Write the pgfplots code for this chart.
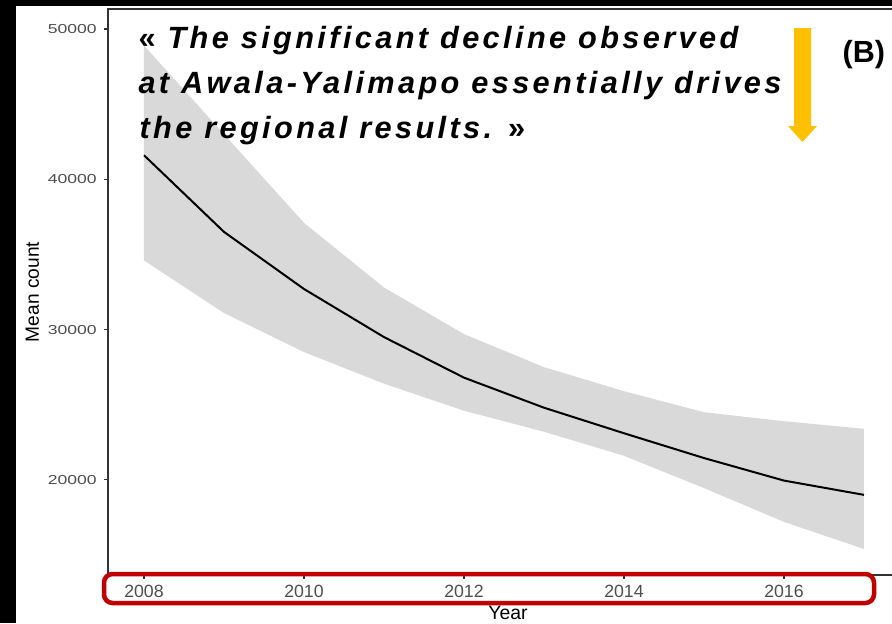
\documentclass[border=0pt]{standalone}
\usepackage{fontspec}
\setmainfont{Liberation Sans}
\newfontfamily\quotefont[LetterSpace=11]{Liberation Sans}
\usepackage{pgfplots}
\pgfplotsset{compat=1.18}
\usepgfplotslibrary{fillbetween}
\usepackage{pgfplotstable}

\definecolor{bandgrey}{HTML}{D9D9D9}
\definecolor{ticktext}{HTML}{4D4D4D}
\definecolor{axisline}{HTML}{333333}
\definecolor{framered}{HTML}{C00000}
\definecolor{arrowgold}{HTML}{FFC000}

% fitted trend of the mean count with its confidence band
\pgfplotstableread{
year  mean   lo     hi
2008  41600  34600  48900
2009  36500  31100  43000
2010  32700  28500  37100
2011  29500  26400  32800
2012  26800  24600  29700
2013  24800  23200  27500
2014  23100  21600  25900
2015  21450  19450  24500
2016  19950  17200  23900
2017  19000  15400  23400
}\trend

\begin{document}
\begin{tikzpicture}
\begin{axis}[
  at={(37.8pt,-201.25pt)}, anchor=south west,
  scale only axis, width=280pt, height=198.1pt,
  xmin=2007.55, xmax=2017.55, ymin=13667, ymax=51333,
  axis line style={draw=axisline, line width=0.45pt},
  tick align=outside, tick pos=left,
  major tick length=1.4pt,
  tick style={draw=axisline, line width=0.4pt},
  xtick={2008,2010,2012,2014,2016},
  xticklabels={2008,2010,2012,2014,2016},
  ytick={20000,30000,40000,50000},
  yticklabels={20000,30000,40000,50000},
  xticklabel style={font=\fontsize{6.2pt}{7pt}\selectfont, text=ticktext,
    inner sep=0pt, anchor=north, yshift=-2.1pt},
  yticklabel style={font=\fontsize{4.55pt}{5.5pt}\selectfont, text=ticktext,
    inner sep=0pt, anchor=east, xshift=-2.3pt, xscale=1.35},
  xlabel={Year}, ylabel={Mean count},
  every axis x label/.style={at={(axis description cs:0.5,0)}, anchor=base,
    yshift=-15.6pt, font=\fontsize{6.8pt}{8pt}\selectfont, text=black},
  every axis y label/.style={at={(axis description cs:0,0.5)}, anchor=base,
    rotate=90, yshift=24.15pt, font=\fontsize{6.7pt}{8pt}\selectfont, text=black},
]
\addplot[name path=hi, draw=none, forget plot] table[x=year, y=hi]{\trend};
\addplot[name path=lo, draw=none, forget plot] table[x=year, y=lo]{\trend};
\addplot[bandgrey, draw=none] fill between[of=hi and lo];
\addplot[black, line width=0.7pt] table[x=year, y=mean]{\trend};
\end{axis}

\begin{scope}[x=0.35pt, y=-0.35pt]
  % dark margins of the slide
  \fill[black] (0,0) rectangle (16,623);
  \fill[black] (0,0) rectangle (892,6);

  % quotation
  \begin{scope}[every node/.style={anchor=base west, inner sep=0pt,
      font=\quotefont\bfseries\itshape\fontsize{10.75pt}{16pt}\selectfont}]
    \node at (138,48) {{\upshape «}~The significant decline observed};
    \node at (138,93) {at Awala-Yalimapo essentially drives};
    \node at (139,138) {the regional results. {\upshape »}};
  \end{scope}

  % downward arrow
  \fill[arrowgold] (794,28) -- (811,28) -- (811,126) -- (817,126)
    -- (802.5,142) -- (788,126) -- (794,126) -- cycle;

  % panel tag
  \node[anchor=base west, inner sep=0pt,
    font=\bfseries\fontsize{10.7pt}{12pt}\selectfont] at (842,62) {(B)};

  % frame round the year axis
  \draw[framered, line width=1.575pt, rounded corners=3pt]
    (104,574) rectangle (874,603);

  \pgfresetboundingbox
  \path[use as bounding box] (0,0) rectangle (892,623);
\end{scope}
\end{tikzpicture}
\end{document}
